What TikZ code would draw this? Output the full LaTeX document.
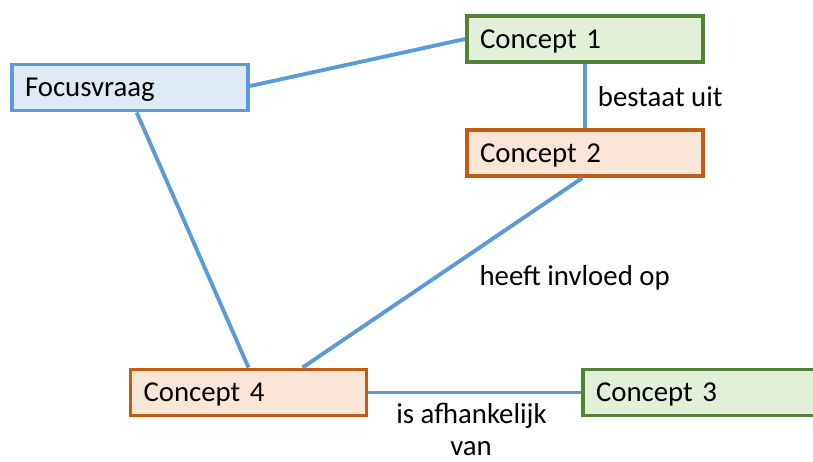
\documentclass[tikz,border=0pt]{standalone}
\usepackage{fontspec}
\setmainfont{Carlito}
\definecolor{lineblue}{HTML}{5B9BD5}
\definecolor{bluefill}{HTML}{DEEBF7}
\definecolor{greenline}{HTML}{548235}
\definecolor{greenfill}{HTML}{E2F0D9}
\definecolor{orangeline}{HTML}{C55A11}
\definecolor{orangefill}{HTML}{FBE5D6}
\tikzset{
  box/.style={rectangle, line width=2.9pt, minimum width=177pt, minimum height=34.5pt,
    text width=157.5pt, inner xsep=9.75pt, align=left, text height=16pt, text depth=2pt,
    font=\fontsize{21.6}{26}\selectfont},
  focusbox/.style={box, draw=lineblue, fill=bluefill},
  greenbox/.style={box, draw=greenline, fill=greenfill},
  orangebox/.style={box, draw=orangeline, fill=orangefill},
  conn/.style={draw=lineblue, line width=2.9pt},
  lbl/.style={inner sep=0pt, font=\fontsize{21.6}{26}\selectfont}
}
\begin{document}
\begin{tikzpicture}[x=0.75pt, y=-0.75pt]
\useasboundingbox (0,0) rectangle (813,461);
\clip (0,0) rectangle (813,461);
\node[focusbox] (F) at (130,87.5) {Focusvraag};
\node[greenbox] (C1) at (585,39) {Concept 1};
\node[orangebox] (C2) at (585,153) {Concept 2};
\node[orangebox] (C4) at (248.5,392.5) {Concept 4};
\node[greenbox] (C3) at (701,392.5) {Concept 3};
\draw[conn] ([yshift=1.1pt]F.east) -- (C1.west);
\draw[conn] (C1.south) -- (C2.south |- C2.north);
\draw[conn] ([xshift=-2pt]C2.south) -- ([xshift=40.5pt]C4.north);
\draw[conn] ([xshift=5pt]F.south) -- (C4.north);
\draw[conn] (C4.east) -- (C3.west);
\node[lbl, anchor=base west] (L1) at (597.7,106.7) {bestaat uit};
\node[lbl, anchor=base west] (L2) at (479.3,285) {heeft invloed op};
\node[lbl, anchor=base] (L3a) at (471.5,423) {is afhankelijk};
\node[lbl, anchor=base] (L3b) at (471,455) {van};
\end{tikzpicture}
\end{document}
